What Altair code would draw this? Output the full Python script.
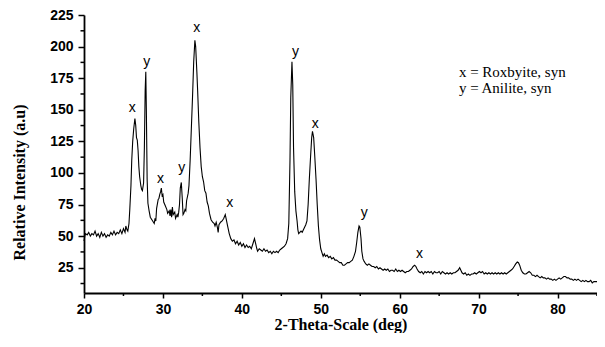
import altair as alt
import pandas as pd

# ---------------- data ----------------
seg_a_t = [20.0, 20.1, 20.2, 20.4, 20.6, 20.8, 21.0, 21.2, 21.4, 21.6, 21.8, 22.0, 22.2, 22.4, 22.6, 22.8,
           23.0, 23.2, 23.4, 23.6, 23.8, 24.0, 24.2, 24.4, 24.6, 24.8, 25.0, 25.2, 25.3, 25.45, 25.55]
seg_a_i = [46, 50, 52, 51, 53, 50, 52, 51, 54, 50, 52, 49, 53, 50, 52, 49,
           51, 50, 53, 51, 54, 51, 53, 52, 55, 52, 56, 53, 58, 55, 54]

seg_b_t = [25.7, 25.8, 25.95, 26.05, 26.17, 26.3, 26.45, 26.55, 26.65, 26.75, 26.85, 26.95, 27.05, 27.2, 27.3, 27.4]
seg_b_i = [60, 71, 90, 110, 125, 135, 143, 138, 128, 126, 118, 105, 97, 90, 87, 86]

seg_c_t = [27.55, 27.65, 27.75, 27.83, 27.9, 28.0, 28.1, 28.25, 28.4, 28.6, 28.8, 28.9, 29.0, 29.1, 29.2, 29.4,
           29.5, 29.6, 29.7, 29.8, 29.9, 30.0, 30.1, 30.3, 30.5, 30.6, 30.8, 30.9, 31.0, 31.1, 31.2, 31.3,
           31.5, 31.6, 31.8, 31.9, 32.0, 32.1, 32.2, 32.33, 32.45, 32.55, 32.65, 32.8, 32.9, 33.0]
seg_c_i = [92, 120, 165, 180, 150, 95, 76, 70, 65, 63, 61, 60, 64, 62, 72, 79,
           80, 83, 85, 88, 82, 83, 77, 74, 71, 68, 70, 66, 71, 65, 73, 67,
           69, 64, 67, 65, 69, 75, 88, 92.5, 80, 67, 68, 71, 70, 78]

seg_d_t = [33.2, 33.3, 33.45, 33.6, 33.75, 33.9, 34.05, 34.15, 34.3, 34.4, 34.55, 34.7, 34.85, 35.0, 35.15, 35.3,
           35.45, 35.6, 35.75, 35.9, 36.1, 36.3, 36.5, 36.6, 36.75, 36.9, 37.0, 37.1, 37.3, 37.5, 37.7, 37.9, 38.0]
seg_d_i = [84, 90, 110, 135, 160, 188, 205, 200, 180, 165, 140, 120, 105, 97, 93, 86,
           84, 77, 74, 68, 63, 61, 60, 58, 61, 57, 53, 59, 61, 62, 64, 67, 64]

seg_e_t = [38.2, 38.4, 38.6, 38.8, 39.0, 39.2, 39.4, 39.6, 39.8, 40.0, 40.2, 40.4, 40.6, 40.8, 41.0, 41.2,
           41.4, 41.6, 41.75, 41.9, 42.0, 42.2, 42.4, 42.6, 42.8, 43.0, 43.2, 43.4, 43.6, 43.8, 44.0, 44.2,
           44.4, 44.6, 44.8, 45.0, 45.2, 45.4, 45.6, 45.8]
seg_e_i = [58, 52, 48, 46, 47, 44, 46, 43, 45, 42, 44, 41, 43, 41, 42, 40,
           44, 48, 44, 40, 38, 40, 39, 38, 40, 38, 39, 37, 38, 36, 38, 37,
           38, 37, 39, 40, 41, 42, 44, 48]

seg_f_t = [45.95, 46.1, 46.2, 46.35, 46.45, 46.55, 46.7, 46.85, 47.0, 47.1, 47.2, 47.35, 47.5, 47.65, 47.8, 47.95,
           48.1, 48.25, 48.4, 48.55, 48.7, 48.85, 48.95, 49.1, 49.25, 49.4, 49.55, 49.7, 49.85, 50.0]
seg_f_i = [60, 110, 160, 188, 170, 120, 85, 70, 62, 55, 52, 53, 54, 53, 55, 57,
           59, 62, 75, 95, 112, 128, 133, 128, 112, 95, 75, 58, 47, 40]

seg_g_t = [50.2, 50.3, 50.45, 50.6, 50.8, 51.0, 51.2, 51.4, 51.6, 51.8, 52.0, 52.2, 52.4, 52.6, 52.8, 53.0,
           53.2, 53.4, 53.6, 53.8, 54.0, 54.2, 54.4, 54.55, 54.7, 54.85, 54.95, 55.1, 55.2, 55.35, 55.5, 55.7, 55.9]
seg_g_i = [36, 34, 36, 34, 35, 33, 34, 32, 33, 31, 31, 30, 29, 29, 27, 27,
           28, 29, 29, 30, 31, 34, 38, 45, 53, 58, 57, 48, 38, 32, 30, 28, 27]

seg_h_t = [56.1, 56.3, 56.5, 56.7, 56.9, 57.1, 57.3, 57.5, 57.7, 57.9, 58.1, 58.3, 58.5, 58.7, 58.9, 59.1,
           59.3, 59.5, 59.7, 59.9, 60.1, 60.3, 60.5, 60.7, 60.9, 61.1, 61.3, 61.5, 61.7, 61.9, 62.05, 62.2,
           62.4, 62.6, 62.8]
seg_h_i = [28, 27, 26, 26, 25, 26, 24, 25, 24, 23, 24, 23, 24, 22, 23, 23,
           22, 24, 22, 23, 22, 23, 22, 21, 22, 22, 23, 24, 26, 27, 26, 24,
           22, 21, 22]

seg_k_t = [63.0, 63.2, 63.4, 63.6, 63.8, 64.0, 64.2, 64.4, 64.6, 64.8, 65.0, 65.2, 65.4, 65.6, 65.8, 66.0,
           66.2, 66.4, 66.6, 66.8, 67.0, 67.2, 67.4, 67.6, 67.75, 67.9, 68.1, 68.3, 68.5, 68.7, 68.9, 69.1,
           69.3, 69.5, 69.7, 69.9, 70.1, 70.3, 70.5, 70.7, 70.9, 71.1, 71.3, 71.5, 71.7, 71.9, 72.1, 72.3,
           72.5, 72.7, 72.9, 73.1, 73.3, 73.5, 73.7, 73.9]
seg_k_i = [20, 22, 21, 22, 21, 22, 20, 22, 21, 21, 22, 20, 22, 21, 20, 21,
           20, 21, 20, 21, 21, 22, 23, 25, 23, 21, 20, 21, 19, 20, 19, 20,
           20, 21, 20, 21, 22, 21, 22, 20, 21, 20, 21, 20, 21, 20, 21, 20,
           21, 20, 21, 20, 21, 20, 21, 22]

seg_m_t = [74.1, 74.3, 74.5, 74.7, 74.9, 75.05, 75.2, 75.4, 75.6, 75.8, 76.0, 76.2, 76.4, 76.6, 76.8, 77.0,
           77.2, 77.4, 77.6, 77.8, 78.0, 78.2, 78.4, 78.6, 78.8, 79.0, 79.2, 79.4, 79.6, 79.8, 80.0, 80.2,
           80.4, 80.6, 80.8, 81.0, 81.2, 81.4, 81.6, 81.8, 82.0, 82.2, 82.4, 82.6, 82.8, 83.0, 83.2, 83.4,
           83.6, 83.8, 84.0, 84.2, 84.4, 84.6, 84.8, 85.0]
seg_m_i = [23, 24, 26, 28, 29.5, 29, 27, 23, 21, 20, 20, 21, 22, 21, 19, 19,
           18, 19, 18, 17, 18, 17, 17, 16, 17, 16, 16, 15, 16, 15, 16, 17,
           16, 17, 18, 18, 17, 17, 16, 16, 15, 16, 15, 16, 15, 14, 15, 14,
           15, 14, 14, 15, 13, 14, 14, 14]

two_theta = (seg_a_t + seg_b_t + seg_c_t + seg_d_t + seg_e_t + seg_f_t +
             seg_g_t + seg_h_t + seg_k_t + seg_m_t)
intensity = (seg_a_i + seg_b_i + seg_c_i + seg_d_i + seg_e_i + seg_f_i +
             seg_g_i + seg_h_i + seg_k_i + seg_m_i)

peak_pos = [26.1, 27.96, 29.7, 32.4, 34.3, 38.46, 46.8, 49.3, 55.5, 62.5]
peak_val = [151.6, 188, 95, 104, 214.7, 76.6, 196, 139, 68, 36]
peak_phase = ["x", "y", "x", "y", "x", "x", "y", "x", "y", "x"]

key_text = ["x = Roxbyite, syn", "y = Anilite, syn"]
key_pos = [67.5, 67.5]
key_val = [180.0, 167.5]

x_domain = [20, 85]
y_domain = [5, 225]
x_major = [20, 30, 40, 50, 60, 70, 80]
x_minor = [25, 35, 45, 55, 65, 75, 85]
y_major = [25, 50, 75, 100, 125, 150, 175, 200, 225]
y_minor = [12.5, 37.5, 62.5, 87.5, 112.5, 137.5, 162.5, 187.5, 212.5]

# ---------------- chart ----------------
xs = alt.Scale(domain=x_domain, nice=False, zero=False)
ys = alt.Scale(domain=y_domain, nice=False, zero=False)

trace = pd.DataFrame({"t": two_theta, "i": intensity})
peaks = pd.DataFrame({"p": peak_pos, "v": peak_val, "s": peak_phase})
key = pd.DataFrame({"p": key_pos, "v": key_val, "s": key_text})
xt_minor = pd.DataFrame({"t": x_minor, "i": [y_domain[0]] * len(x_minor)})
yt_minor = pd.DataFrame({"t": [x_domain[0]] * len(y_minor), "i": y_minor})

axis_style = dict(labelFont="Liberation Sans", labelFontWeight="bold", labelFontSize=14,
                  labelColor="black", grid=False, domain=True, domainColor="black",
                  domainWidth=1.8, ticks=True, tickColor="black", tickWidth=1.5,
                  titleFont="Liberation Serif", titleFontWeight="bold", titleColor="black")

line = alt.Chart(trace).mark_line(color="black", strokeWidth=1.1).encode(
    x=alt.X("t:Q", scale=xs, axis=alt.Axis(
        orient="bottom", values=x_major, tickSize=5, labelPadding=4, labelFlush=False,
        title="2-Theta-Scale (deg)", titleFontSize=16, titleY=31, titleBaseline="middle",
        **axis_style)),
    y=alt.Y("i:Q", scale=ys, axis=alt.Axis(
        orient="left", values=y_major, tickSize=6, labelPadding=5,
        title="Relative Intensity (a.u)", titleFontSize=16, titleAngle=270,
        titleX=-65, titleY=167, titleBaseline="middle", titleAlign="center",
        **axis_style)),
)

x_minor_ticks = alt.Chart(xt_minor).mark_tick(
    orient="vertical", size=3, thickness=1.5, color="black", opacity=1, yOffset=1.5
).encode(
    x=alt.X("t:Q", scale=xs, axis=None),
    y=alt.Y("i:Q", scale=ys, axis=None),
)

y_minor_ticks = alt.Chart(yt_minor).mark_tick(
    orient="horizontal", size=3.5, thickness=1.5, color="black", opacity=1, xOffset=-1.75
).encode(
    x=alt.X("t:Q", scale=xs, axis=None),
    y=alt.Y("i:Q", scale=ys, axis=None),
)

peak_text = alt.Chart(peaks).mark_text(
    font="Liberation Sans", fontSize=14, color="black", align="center", baseline="middle"
).encode(
    x=alt.X("p:Q", scale=xs, axis=None),
    y=alt.Y("v:Q", scale=ys, axis=None),
    text="s:N",
)

key_text_layer = alt.Chart(key).mark_text(
    font="Liberation Serif", fontSize=15, color="black", align="left", baseline="middle"
).encode(
    x=alt.X("p:Q", scale=xs, axis=None),
    y=alt.Y("v:Q", scale=ys, axis=None),
    text="s:N",
)

chart = alt.layer(
    line, x_minor_ticks, y_minor_ticks, peak_text, key_text_layer
).resolve_axis(
    x="independent", y="independent"
).properties(
    width=513, height=278,
    autosize=alt.AutoSizeParams(type="none"),
    padding={"left": 76, "top": 7, "right": 0, "bottom": 40},
).configure_view(strokeWidth=0)

chart.save("out.html", embed_options={"renderer": "svg", "actions": False})
